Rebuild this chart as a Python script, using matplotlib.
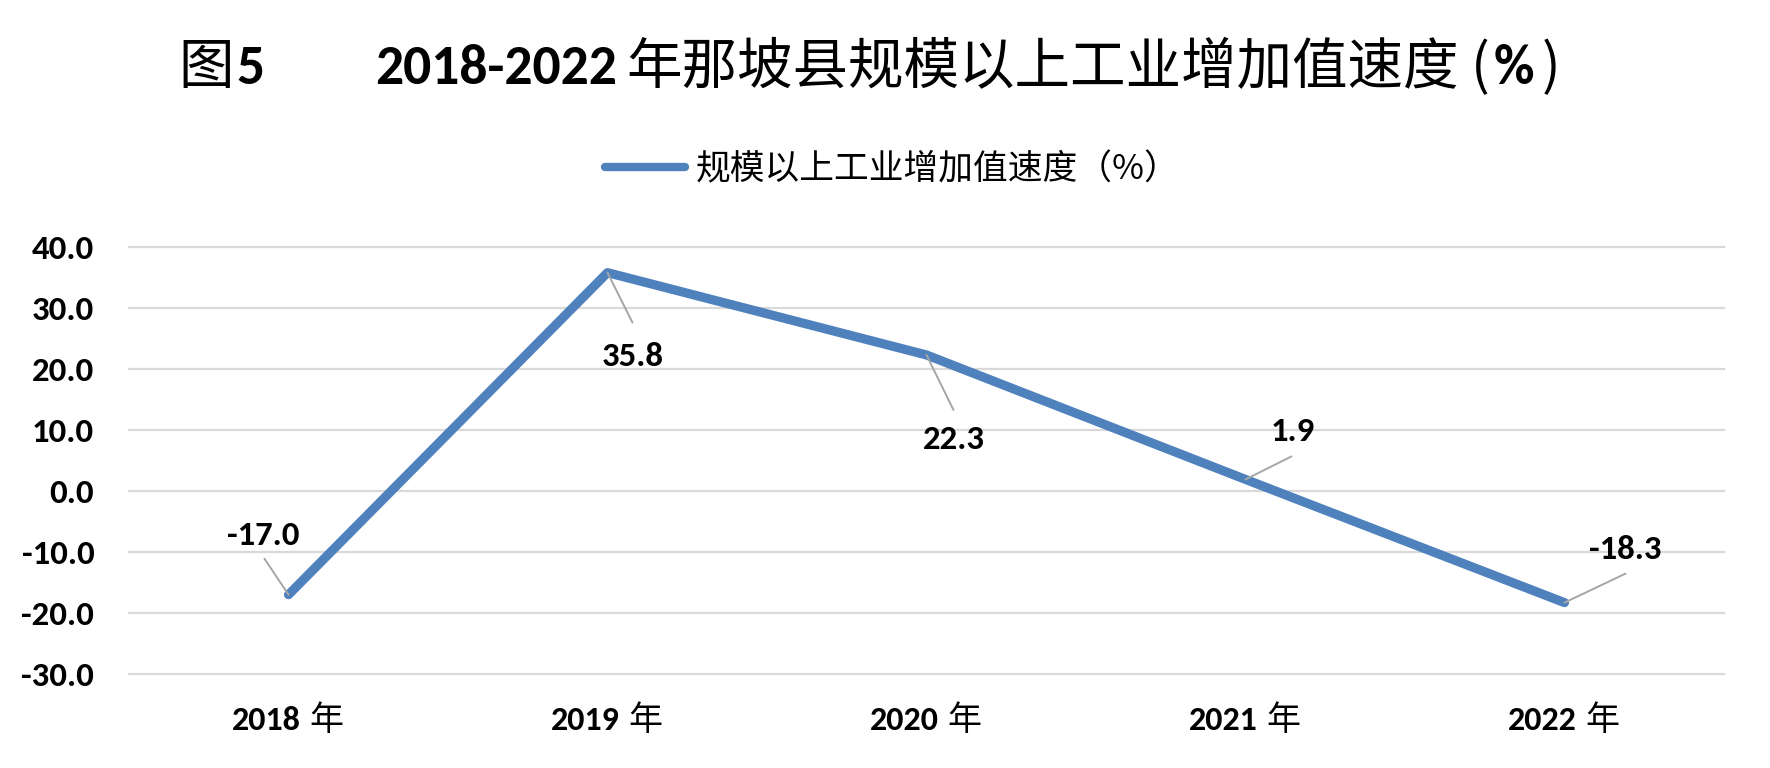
import matplotlib
matplotlib.use("Agg")
import matplotlib.pyplot as plt
from matplotlib.lines import Line2D

# ---------------- data ----------------
years = ["2018", "2019", "2020", "2021", "2022"]
year_suffix = "年"
values = [-17.0, 35.8, 22.3, 1.9, -18.3]
series_name = "规模以上工业增加值速度（%）"
y_ticks = [-30, -20, -10, 0, 10, 20, 30, 40]

# ---------------- style / layout ----------------
W, H = 1770, 768
LINE_COLOR = "#4F81BD"
GRID_COLOR = "#D9D9D9"
LEADER_COLOR = "#A6A6A6"
CJK = ["Noto Sans CJK SC", "DejaVu Sans"]
LAT = ["Carlito", "Noto Sans CJK SC", "DejaVu Sans"]

# label baseline offsets and leader-line end offsets, in pixels (up = +)
label_offsets = [(-25, 50), (25, -93), (27, -94), (47, 38), (61, 44)]
leader_offsets = [(-24, 36), (25, -50), (27, -55), (46, 23), (61, 29)]

plt.rcParams["font.family"] = LAT

fig = plt.figure(figsize=(W / 100, H / 100), dpi=100)
ax = fig.add_axes([129 / W, 94 / H, (1724 - 129) / W, (674 - 247) / H])

x = list(range(len(years)))
ax.plot(x, values, color=LINE_COLOR, lw=6.6, solid_capstyle="round",
        solid_joinstyle="round", zorder=3)

ax.set_xlim(-0.5, len(years) - 0.5)
ax.set_ylim(min(y_ticks), max(y_ticks))
ax.set_yticks(y_ticks)
ax.set_yticklabels([f"{v:.1f}" for v in y_ticks], fontsize=25,
                   fontweight="bold", family=LAT)
ax.set_xticks(x)
ax.set_xticklabels([])
ax.tick_params(axis="both", length=0)
ax.tick_params(axis="y", pad=25)
for s in ax.spines.values():
    s.set_visible(False)
ax.yaxis.grid(True, color=GRID_COLOR, lw=1.6)
ax.set_axisbelow(True)
for gl in ax.get_ygridlines():
    gl.set_clip_on(False)

# x category labels: bold digits + regular CJK suffix
xt = ax.get_xaxis_transform()
for i, yr in enumerate(years):
    ax.annotate(yr, xy=(i, 0), xycoords=xt, xytext=(12, -56),
                textcoords="offset pixels", ha="right", va="baseline",
                fontsize=24.5, fontweight="bold", family=LAT,
                annotation_clip=False)
    ax.annotate(year_suffix, xy=(i, 0), xycoords=xt, xytext=(21, -56),
                textcoords="offset pixels", ha="left", va="baseline",
                fontsize=24.5, family=CJK, annotation_clip=False)

# data labels with leader lines
for i, v in enumerate(values):
    ax.annotate("", xy=(i, v), xytext=leader_offsets[i],
                textcoords="offset pixels",
                arrowprops=dict(arrowstyle="-", color=LEADER_COLOR, lw=1.4,
                                shrinkA=0, shrinkB=0), zorder=4)
    ax.annotate(f"{v:.1f}", xy=(i, v), xytext=label_offsets[i],
                textcoords="offset pixels", ha="center", va="baseline",
                fontsize=25, fontweight="bold", family=LAT, zorder=5)

# legend
handle = Line2D([0], [0], color=LINE_COLOR, lw=6, solid_capstyle="round")
fig.legend([handle], [series_name], loc="center left",
           bbox_to_anchor=(605 / W, (H - 170) / H), frameon=False,
           borderpad=0, borderaxespad=0, handlelength=2.3,
           handletextpad=0.3, prop=dict(family=CJK, size=25))

# title (mixed fonts), laid out piece by piece
base = (H - 84) / H
fig.text(178 / W, base, "图", fontsize=40, family=CJK, va="baseline")
fig.text(236 / W, base, "5", fontsize=40, fontweight="bold", family=LAT,
         va="baseline")
fig.text(375 / W, base, "2018-2022", fontsize=40, fontweight="bold",
         family=LAT, va="baseline")
t1 = fig.text(626 / W, base, "年那坡县规模以上工业增加值速度", fontsize=40,
              family=CJK, va="baseline")
pieces = [("(", dict(family=CJK), 12), ("%", dict(family=LAT, fontweight="bold"), 4),
          (")", dict(family=CJK), 8)]
r = fig.canvas.get_renderer()
prev = t1
for s, kw, gap in pieces:
    e = prev.get_window_extent(r)
    prev = fig.text((e.x1 + gap) / W, base, s, fontsize=40, va="baseline", **kw)

fig.savefig("out.png", dpi=100, facecolor="white")
